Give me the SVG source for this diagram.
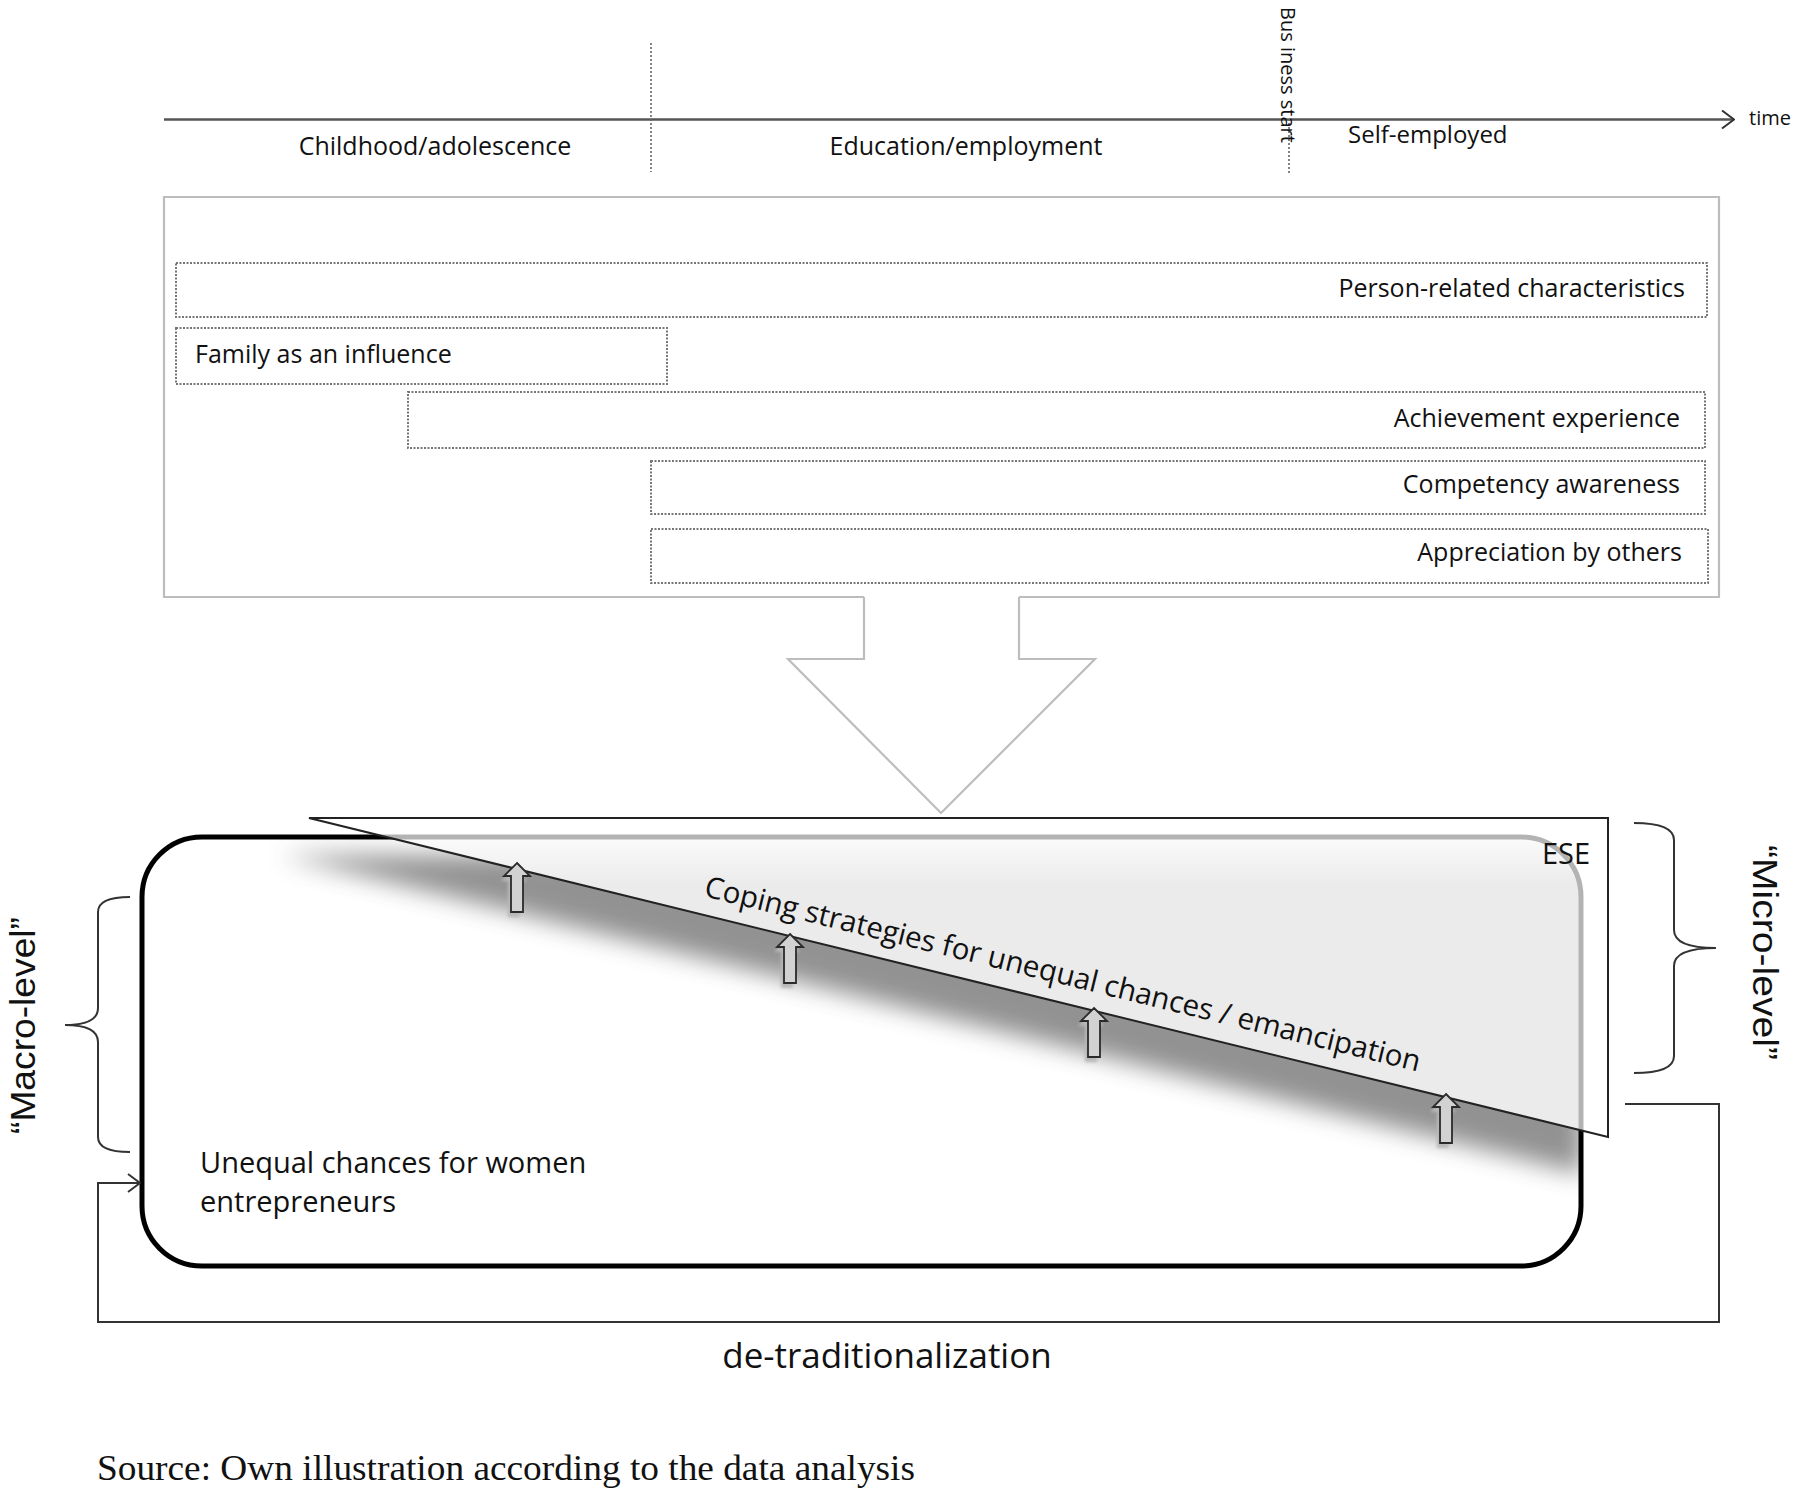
<svg xmlns="http://www.w3.org/2000/svg" width="1798" height="1492" viewBox="0 0 1798 1492">
<defs>
<style>
.lbl{font-family:"Open Sans","Noto Sans",sans-serif;fill:#111}
.arial{font-family:"Liberation Sans",Arial,sans-serif;fill:#111}
.serif{font-family:"Liberation Serif","Times New Roman",serif;fill:#111}
.bar{fill:#fff;stroke:#777;stroke-width:2;stroke-dasharray:2 1.5}
.vdash{stroke:#666;stroke-width:1.6;stroke-dasharray:2 2;fill:none}
.brace{fill:none;stroke:#333;stroke-width:2}
.conn{fill:none;stroke:#333;stroke-width:2}
.up{fill:#d2d2d2;stroke:#2a2a2a;stroke-width:1.8}
.upsh{fill:#b8b8b8;stroke:none}
</style>
<marker id="open" viewBox="0 0 14 20" refX="13" refY="10" markerWidth="14" markerHeight="20" markerUnits="userSpaceOnUse" orient="auto"><path d="M1,1 L13,10 L1,19" fill="none" stroke="#333" stroke-width="2"/></marker>
<clipPath id="rectClip"><rect x="142" y="837" width="1439" height="429" rx="60"/></clipPath>
<clipPath id="triClip"><polygon points="309,818 1608,818 1608,1137"/></clipPath>
<filter id="blur" x="-10%" y="-40%" width="120%" height="180%"><feGaussianBlur stdDeviation="12"/></filter>
<filter id="sblur" x="-50%" y="-50%" width="200%" height="200%"><feGaussianBlur stdDeviation="1.8"/></filter>
<linearGradient id="eseGrad" x1="0" y1="837" x2="0" y2="885" gradientUnits="userSpaceOnUse"><stop offset="0" stop-color="#fbfbfb"/><stop offset="1" stop-color="#ebebeb"/></linearGradient>
<path id="uparrow" d="M0,0 L13,13 L6,13 L6,49 L-6,49 L-6,13 L-13,13 Z"/>
</defs>
<rect width="1798" height="1492" fill="#fff"/>

<g id="timeline">
<line x1="164" y1="119.5" x2="1734" y2="119.5" stroke="#555" stroke-width="2.5" marker-end="url(#open)"/>
<text class="lbl" x="1749" y="125" font-size="20">time</text>
<line class="vdash" x1="651" y1="43" x2="651" y2="172"/>
<line class="vdash" x1="1289" y1="119" x2="1289" y2="173"/>
<text class="lbl" font-size="20" transform="translate(1281,7) rotate(90)">Bus iness start</text>
<text class="lbl" x="435" y="155" font-size="25" text-anchor="middle">Childhood/adolescence</text>
<text class="lbl" x="966" y="155" font-size="25" text-anchor="middle">Education/employment</text>
<text class="lbl" x="1348" y="143" font-size="24">Self-employed</text>
</g>

<g id="influences">
<path d="M864,597 H164 V197 H1719 V597 H1019" fill="none" stroke="#bdbdbd" stroke-width="2.2"/>
<g id="bar-person"><rect class="bar" x="176" y="263" width="1531" height="54"/><text class="lbl" x="1685" y="297" font-size="25" text-anchor="end">Person-related characteristics</text></g>
<g id="bar-family"><rect class="bar" x="176" y="328" width="491" height="56"/><text class="lbl" x="195" y="363" font-size="25">Family as an influence</text></g>
<g id="bar-achievement"><rect class="bar" x="408" y="392" width="1297" height="56"/><text class="lbl" x="1680" y="427" font-size="25" text-anchor="end">Achievement  experience</text></g>
<g id="bar-competency"><rect class="bar" x="651" y="461" width="1054" height="53"/><text class="lbl" x="1680" y="493" font-size="25" text-anchor="end">Competency  awareness</text></g>
<g id="bar-appreciation"><rect class="bar" x="651" y="529" width="1057" height="54"/><text class="lbl" x="1682" y="561" font-size="25" text-anchor="end">Appreciation by others</text></g>
</g>

<g id="big-arrow">
<path d="M864,597 L864,659 L788,659 L941,813 L1095,659 L1019,659 L1019,597" fill="#fff" stroke="#bdbdbd" stroke-width="2.2"/>
</g>

<g id="unequal-chances">
<rect x="142" y="837" width="1439" height="429" rx="60" fill="#fff"/>
<g clip-path="url(#rectClip)"><polygon points="280,855 1583,855 1583,1174" fill="#7f7f7f" opacity="0.85" filter="url(#blur)"/></g>
<rect x="142" y="837" width="1439" height="429" rx="60" fill="none" stroke="#000" stroke-width="5"/>
<text class="lbl" x="200" y="1173" font-size="29">Unequal chances for women</text>
<text class="lbl" x="200" y="1212" font-size="29">entrepreneurs</text>
</g>

<g id="ese">
<polygon points="309,818 1608,818 1608,1137" fill="#fff"/>
<g clip-path="url(#triClip)"><rect x="142" y="837" width="1439" height="429" rx="60" fill="url(#eseGrad)" stroke="#b3b3b3" stroke-width="5"/></g>
<polygon points="309,818 1608,818 1608,1137" fill="none" stroke="#222" stroke-width="2"/>
<text class="lbl" x="1542" y="864" font-size="29">ESE</text>
<text class="lbl" font-size="29.5" transform="translate(703,896) rotate(13.8)" textLength="736" lengthAdjust="spacing">Coping strategies for unequal  chances / emancipation</text>
</g>

<g id="connectors">
<g id="up-arrows">
<use href="#uparrow" class="upsh" x="514" y="868" filter="url(#sblur)"/>
<use href="#uparrow" class="up" x="517" y="863"/>
<use href="#uparrow" class="upsh" x="787" y="939" filter="url(#sblur)"/>
<use href="#uparrow" class="up" x="790" y="934"/>
<use href="#uparrow" class="upsh" x="1091" y="1013" filter="url(#sblur)"/>
<use href="#uparrow" class="up" x="1094" y="1008"/>
<use href="#uparrow" class="upsh" x="1443" y="1099" filter="url(#sblur)"/>
<use href="#uparrow" class="up" x="1446" y="1094"/>
</g>
<path id="feedback" class="conn" d="M1625,1104 H1719 V1322 H98 V1183 H140" marker-end="url(#open)"/>
</g>

<g id="micro-level">
<path class="brace" d="M1634,823 Q1674,823 1674,840 V930 Q1674,948 1716,948 Q1674,948 1674,966 V1056 Q1674,1073 1634,1073"/>
<text class="arial" font-size="35" transform="translate(1753,845) rotate(90)" textLength="215" lengthAdjust="spacingAndGlyphs">“Micro-level”</text>
</g>

<g id="macro-level">
<path class="brace" d="M130,897 Q98,897 98,912 V1008 Q98,1025 65,1025 Q98,1025 98,1042 V1137 Q98,1152 130,1152"/>
<text class="arial" font-size="35" transform="translate(35,1134) rotate(-90)" textLength="217" lengthAdjust="spacingAndGlyphs">“Macro-level”</text>
</g>

<g id="labels">
<text class="lbl" x="887" y="1368" font-size="35" text-anchor="middle">de-traditionalization</text>
<text class="serif" x="97" y="1480" font-size="36" textLength="818" lengthAdjust="spacingAndGlyphs">Source: Own illustration according to the data analysis</text>
</g>
</svg>
